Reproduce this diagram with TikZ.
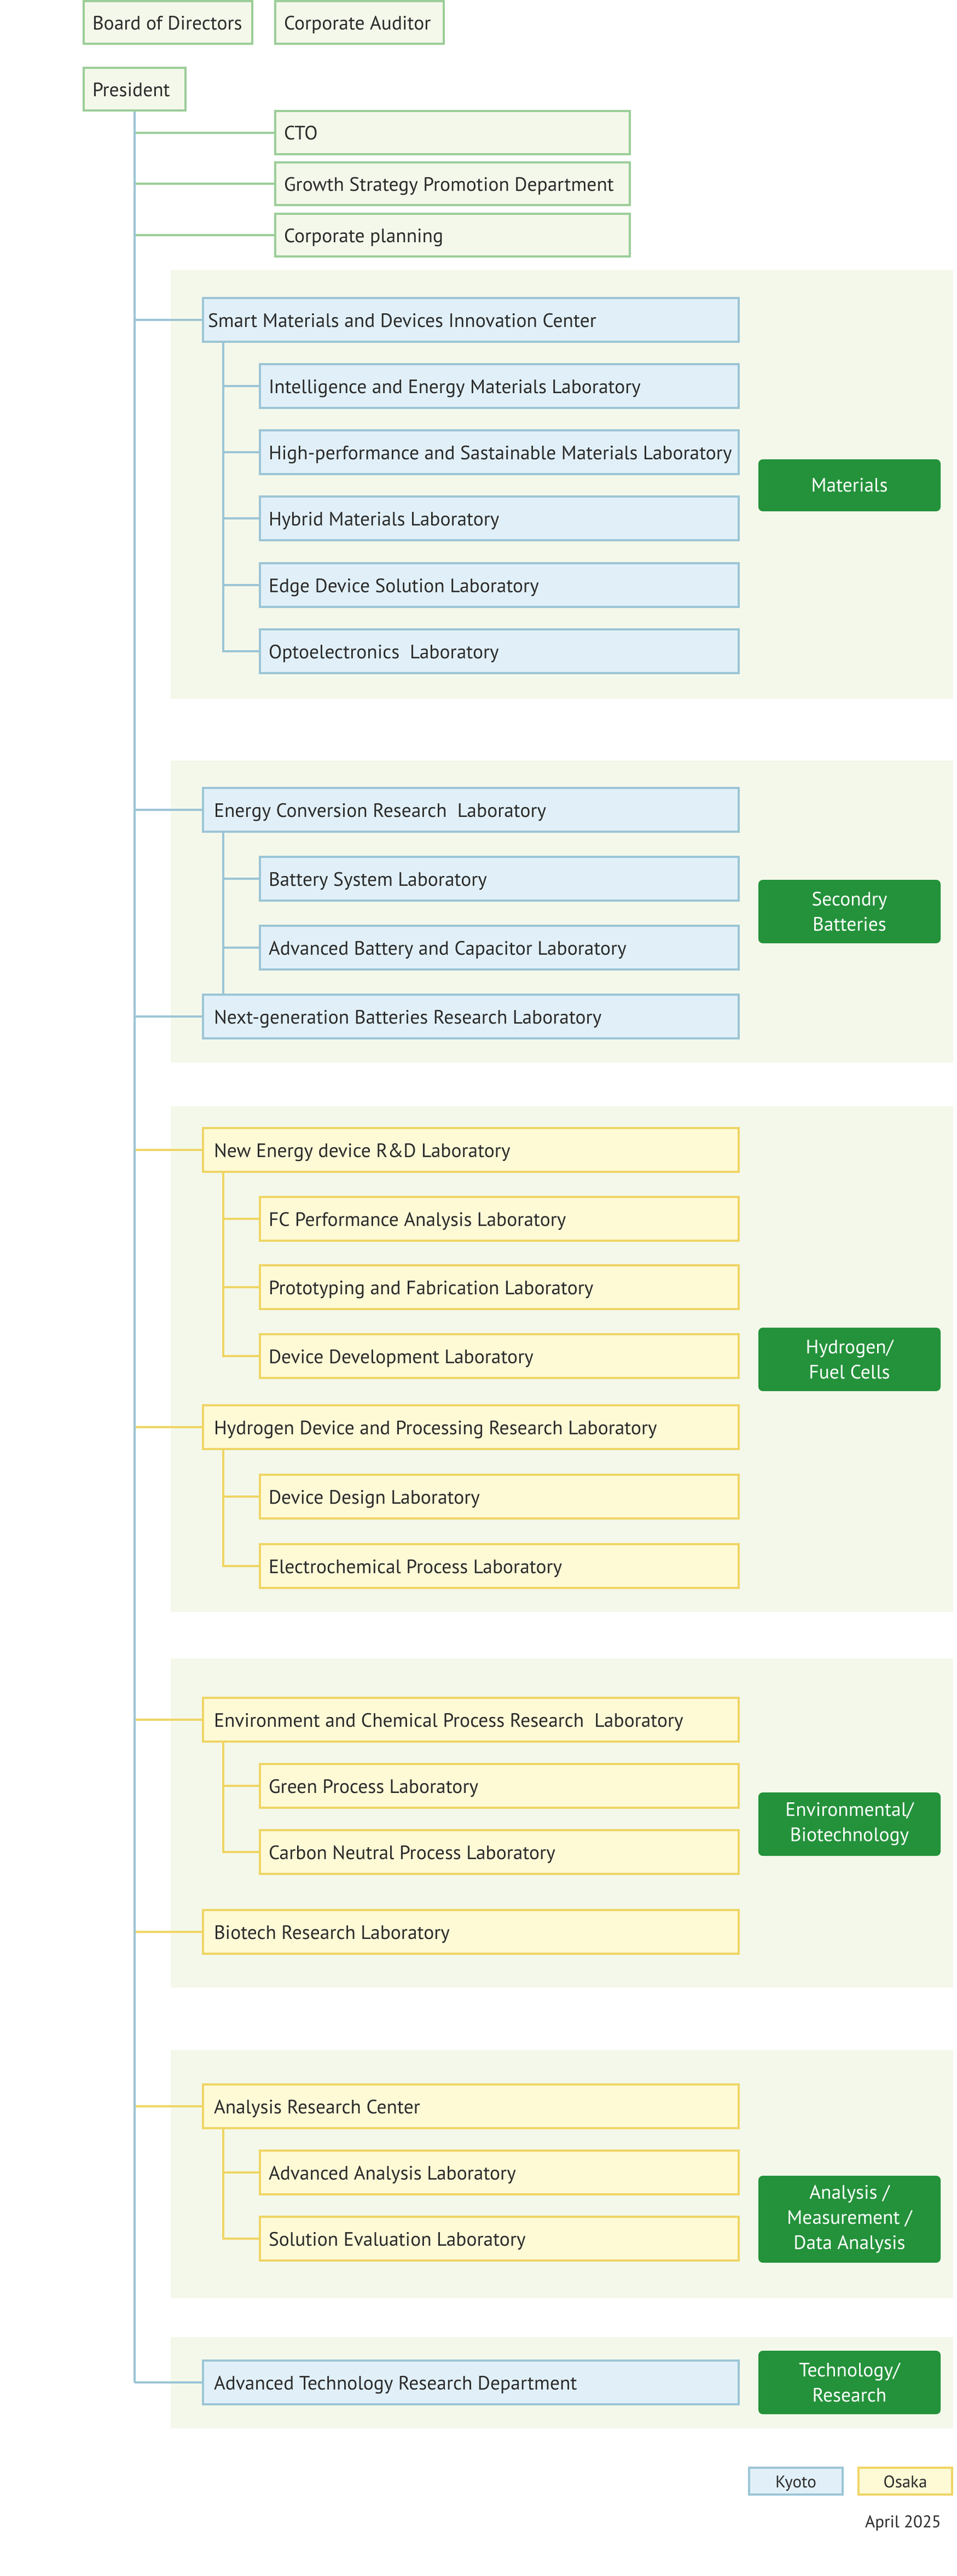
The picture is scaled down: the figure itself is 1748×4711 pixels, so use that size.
\documentclass[tikz,border=0pt]{standalone}
\usepackage{fontspec}
\setmainfont{PT Sans}
\usetikzlibrary{calc}
\definecolor{txt}{HTML}{2B2B2B}
\definecolor{kyF}{HTML}{E1F0F8}
\definecolor{kyB}{HTML}{9CC5D6}
\definecolor{osF}{HTML}{FEFAD6}
\definecolor{osB}{HTML}{EFD565}
\definecolor{tpF}{HTML}{F4F8EA}
\definecolor{tpB}{HTML}{9CCE99}
\definecolor{panelF}{HTML}{F4F8EA}
\definecolor{labF}{HTML}{24923B}
% name, style, pad, x1, y1, x2, y2, text
\newcommand{\orgbox}[8]{%
  \pgfmathsetmacro\obw{#6-#4-4}%
  \pgfmathsetmacro\obh{#7-#5-4}%
  \pgfmathsetmacro\otw{#6-#4-4-2*#3}%
  \node[#2, minimum width=\obw pt, minimum height=\obh pt] (#1) at ({(#4+#6)/2},{(#5+#7)/2}) {\makebox[\otw pt][l]{#8}};}
% name, x1, y1, x2, y2, text
\newcommand{\labbox}[6]{%
  \pgfmathsetmacro\obw{#4-#2}%
  \pgfmathsetmacro\obh{#5-#3}%
  \node[catlabel, minimum width=\obw pt, minimum height=\obh pt] (#1) at ({(#2+#4)/2},{(#3+#5)/2}) {#6};}
% name, style, x1, y1, x2, y2, text
\newcommand{\legbox}[7]{%
  \pgfmathsetmacro\obw{#5-#3-4}%
  \pgfmathsetmacro\obh{#6-#4-4}%
  \node[#2, minimum width=\obw pt, minimum height=\obh pt] (#1) at ({(#3+#5)/2},{(#4+#6)/2}) {#7};}
\tikzset{
  basebox/.style={line width=4pt, inner sep=0pt, text=txt,
    font=\fontsize{35.5}{43}\selectfont, text height=26.5pt, text depth=0pt},
  topbox/.style={basebox, draw=tpB, fill=tpF},
  kybox/.style={basebox, draw=kyB, fill=kyF},
  osbox/.style={basebox, draw=osB, fill=osF},
  catlabel/.style={fill=labF, rounded corners=8pt, text=white, align=center,
    font=\fontsize{35.5}{46}\selectfont, inner sep=0pt},
  legk/.style={kybox, font=\fontsize{31}{38}\selectfont, text height=24pt},
  lego/.style={osbox, font=\fontsize{31}{38}\selectfont, text height=24pt},
  panel/.style={fill=panelF},
  trunkline/.style={draw=kyB, line width=4pt},
  kline/.style={draw=kyB, line width=4pt},
  oline/.style={draw=osB, line width=4pt},
  gline/.style={draw=tpB, line width=4pt},
}
\begin{document}
\begin{tikzpicture}[x=1pt,y=-1pt]
\useasboundingbox (0,0) rectangle (1748,4711);
\fill[white] (0,0) rectangle (1748,4711);
% panels
\fill[panel] (312,494) rectangle (1742,1278);
\fill[panel] (312,1391) rectangle (1742,1943);
\fill[panel] (312,2023) rectangle (1742,2948);
\fill[panel] (312,3033) rectangle (1742,3635);
\fill[panel] (312,3749) rectangle (1742,4203);
\fill[panel] (312,4274) rectangle (1742,4441);
% top boxes
\orgbox{board}{topbox}{16}{151}{0}{463}{82}{Board of Directors}
\orgbox{auditor}{topbox}{16}{501}{0}{813}{82}{Corporate Auditor}
\orgbox{president}{topbox}{16}{151}{122}{341}{204}{President}
\orgbox{cto}{topbox}{16}{501}{201}{1153}{284}{CTO}
\orgbox{growth}{topbox}{16}{501}{295}{1153}{377}{Growth Strategy Promotion Department}
\orgbox{corp}{topbox}{16}{501}{389}{1153}{471}{Corporate planning}
% materials
\orgbox{smart}{kybox}{9}{369}{543}{1352}{627}{Smart Materials and Devices Innovation Center}
\orgbox{intel}{kybox}{16}{473}{664}{1352}{748}{Intelligence and Energy Materials Laboratory}
\orgbox{highp}{kybox}{16}{473}{785}{1352}{869}{High-performance and Sastainable Materials Laboratory}
\orgbox{hybrid}{kybox}{16}{473}{906}{1352}{990}{Hybrid Materials Laboratory}
\orgbox{edge}{kybox}{16}{473}{1028}{1352}{1112}{Edge Device Solution Laboratory}
\orgbox{opto}{kybox}{16}{473}{1149}{1352}{1233}{Optoelectronics~ Laboratory}
\labbox{lmat}{1386}{840}{1719}{935}{Materials}
% secondary batteries
\orgbox{econv}{kybox}{20}{369}{1439}{1352}{1523}{Energy Conversion Research~ Laboratory}
\orgbox{batsys}{kybox}{16}{473}{1565}{1352}{1649}{Battery System Laboratory}
\orgbox{advbat}{kybox}{16}{473}{1691}{1352}{1775}{Advanced Battery and Capacitor Laboratory}
\orgbox{nextgen}{kybox}{20}{369}{1817}{1352}{1901}{Next-generation Batteries Research Laboratory}
\labbox{lsec}{1386}{1609}{1719}{1725}{Secondry\\Batteries}
% hydrogen
\orgbox{newen}{osbox}{20}{369}{2061}{1352}{2145}{New Energy device R\&D Laboratory}
\orgbox{fcperf}{osbox}{16}{473}{2187}{1352}{2271}{FC Performance Analysis Laboratory}
\orgbox{proto}{osbox}{16}{473}{2312}{1352}{2396}{Prototyping and Fabrication Laboratory}
\orgbox{devdev}{osbox}{16}{473}{2438}{1352}{2522}{Device Development Laboratory}
\orgbox{hydev}{osbox}{20}{369}{2568}{1352}{2652}{Hydrogen Device and Processing Research Laboratory}
\orgbox{devdes}{osbox}{16}{473}{2695}{1352}{2779}{Device Design Laboratory}
\orgbox{echem}{osbox}{16}{473}{2822}{1352}{2906}{Electrochemical Process Laboratory}
\labbox{lhyd}{1386}{2428}{1719}{2544}{Hydrogen/\\Fuel Cells}
% environment
\orgbox{envchem}{osbox}{20}{369}{3103}{1352}{3187}{Environment and Chemical Process Research~ Laboratory}
\orgbox{greenp}{osbox}{16}{473}{3224}{1352}{3308}{Green Process Laboratory}
\orgbox{carbon}{osbox}{16}{473}{3345}{1352}{3429}{Carbon Neutral Process Laboratory}
\orgbox{biotech}{osbox}{20}{369}{3491}{1352}{3575}{Biotech Research Laboratory}
\labbox{lenv}{1386}{3278}{1719}{3394}{Environmental/\\Biotechnology}
% analysis
\orgbox{arc}{osbox}{20}{369}{3810}{1352}{3894}{Analysis Research Center}
\orgbox{advana}{osbox}{16}{473}{3931}{1352}{4015}{Advanced Analysis Laboratory}
\orgbox{soleval}{osbox}{16}{473}{4052}{1352}{4136}{Solution Evaluation Laboratory}
\labbox{lana}{1386}{3979}{1719}{4138}{Analysis /\\Measurement /\\Data Analysis}
% technology
\orgbox{advtech}{kybox}{20}{369}{4315}{1352}{4399}{Advanced Technology Research Department}
\labbox{ltech}{1386}{4299}{1719}{4415}{Technology/\\Research}
% legend
\legbox{kyoto}{legk}{1367}{4511}{1542}{4564}{Kyoto}
\legbox{osaka}{lego}{1567}{4511}{1742}{4564}{Osaka}
\node[anchor=base east, inner sep=0pt, text=txt, font=\fontsize{31}{38}\selectfont] (date) at (1720,4622) {April 2025};
% branches from the trunk
\draw[gline] (president.south |- cto.west) -- (cto.west);
\draw[gline] (president.south |- growth.west) -- (growth.west);
\draw[gline] (president.south |- corp.west) -- (corp.west);
\draw[kline] (president.south |- smart.west) -- (smart.west);
\draw[kline] (president.south |- econv.west) -- (econv.west);
\draw[kline] (president.south |- nextgen.west) -- (nextgen.west);
\draw[oline] (president.south |- newen.west) -- (newen.west);
\draw[oline] (president.south |- hydev.west) -- (hydev.west);
\draw[oline] (president.south |- envchem.west) -- (envchem.west);
\draw[oline] (president.south |- biotech.west) -- (biotech.west);
\draw[oline] (president.south |- arc.west) -- (arc.west);
\draw[kline] (president.south |- advtech.west) -- (advtech.west);
% trunk
\draw[trunkline] (president.south) -- (president.south |- advtech.west);
% sub-branches
\foreach \c in {intel,highp,hybrid,edge,opto}
  \draw[kline] ($(smart.south west)+(39,0)$) |- (\c.west);
\foreach \c in {batsys,advbat}
  \draw[kline] ($(econv.south west)+(39,0)$) |- (\c.west);
\draw[kline] ($(econv.south west)+(39,0)$) -- ($(nextgen.north west)+(39,0)$);
\foreach \c in {fcperf,proto,devdev}
  \draw[oline] ($(newen.south west)+(39,0)$) |- (\c.west);
\foreach \c in {devdes,echem}
  \draw[oline] ($(hydev.south west)+(39,0)$) |- (\c.west);
\foreach \c in {greenp,carbon}
  \draw[oline] ($(envchem.south west)+(39,0)$) |- (\c.west);
\foreach \c in {advana,soleval}
  \draw[oline] ($(arc.south west)+(39,0)$) |- (\c.west);
\end{tikzpicture}
\end{document}
